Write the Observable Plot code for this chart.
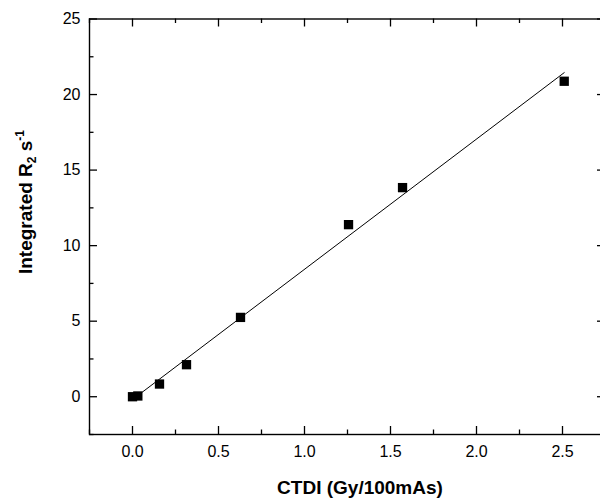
<!DOCTYPE html>
<html><head><meta charset="utf-8">
<script src="https://cdn.jsdelivr.net/npm/d3@7"></script>
<script src="https://cdn.jsdelivr.net/npm/@observablehq/plot@0.6"></script>
<style>html,body{margin:0;padding:0;background:#fff;overflow:hidden} svg{display:block}</style>
</head><body><div id="chart"></div>
<script>
// Data
const ctdi = [0, 0.031, 0.157, 0.314, 0.628, 1.256, 1.57, 2.51];
const r2   = [0, 0.05, 0.84, 2.12, 5.25, 11.39, 13.84, 20.88];
const fitX = [0.031, 2.51];
const fitY = [0.08, 21.45];
const xTicks = [0, 0.5, 1, 1.5, 2, 2.5];
const xMinor = [-0.25, 0.25, 0.75, 1.25, 1.75, 2.25, 2.75];
const yTicks = [0, 5, 10, 15, 20, 25];
const yMinor = [-2.5, 2.5, 7.5, 12.5, 17.5, 22.5];
const xTitle = "CTDI (Gy/100mAs)";
const yTitleParts = ["Integrated R", "2", " s", "-1"];

const W = 600, H = 499, mL = 89, mT = 18.5, mB = 65, mR = -5;
const innerH = H - mT - mB;
const innerW = W - mL - mR;
const points = ctdi.map((x, i) => ({x, y: r2[i]}));
const fit = fitX.map((x, i) => ({x, y: fitY[i]}));
const tk = 1.3;

const plot = Plot.plot({
  width: W, height: H,
  marginLeft: mL, marginRight: mR, marginTop: mT, marginBottom: mB,
  style: {fontFamily: "'Liberation Sans', Arial, sans-serif", fontSize: "16px", background: "white", color: "black", overflow: "hidden"},
  x: {domain: [-0.25, 2.75]},
  y: {domain: [-2.5, 25]},
  marks: [
    Plot.axisX({ticks: xTicks, anchor: "bottom", tickSize: 0, tickPadding: 11, tickFormat: d3.format(".1f"), label: null, fontSize: 16}),
    Plot.axisY({ticks: yTicks, anchor: "left", tickSize: 0, tickPadding: 9, label: null, fontSize: 16}),
    // inward ticks: bottom/top
    Plot.tickX(xTicks, {x: d => d, insetTop: innerH - 8, strokeWidth: tk}),
    Plot.tickX(xMinor, {x: d => d, insetTop: innerH - 4.5, strokeWidth: tk}),
    Plot.tickX(xTicks, {x: d => d, insetBottom: innerH - 8, strokeWidth: tk}),
    Plot.tickX(xMinor, {x: d => d, insetBottom: innerH - 4.5, strokeWidth: tk}),
    // inward ticks: left/right
    Plot.tickY(yTicks, {y: d => d, insetRight: innerW - 8, strokeWidth: tk}),
    Plot.tickY(yMinor, {y: d => d, insetRight: innerW - 4.5, strokeWidth: tk}),
    Plot.tickY(yTicks, {y: d => d, insetLeft: innerW - 8, strokeWidth: tk}),
    Plot.tickY(yMinor, {y: d => d, insetLeft: innerW - 4.5, strokeWidth: tk}),
    Plot.frame({strokeWidth: 1.4}),
    Plot.line(fit, {x: "x", y: "y", stroke: "black", strokeWidth: 1}),
    Plot.dot(points, {x: "x", y: "y", symbol: "square", r: 5.25, fill: "black", stroke: "none"})
  ]
});
document.getElementById("chart").appendChild(plot);

const svg = d3.select(plot);
svg.selectAll('g[aria-label$="tick label"]').attr("font-size", 16).selectAll("text").attr("font-size", 16);
const font = "'Liberation Sans', Arial, sans-serif";
svg.append("text")
  .attr("x", 360).attr("y", 494)
  .attr("text-anchor", "middle")
  .attr("font-family", font).attr("font-weight", "bold").attr("font-size", 19)
  .attr("fill", "black")
  .text(xTitle);

const yt = svg.append("text")
  .attr("transform", "translate(32,202) rotate(-90)")
  .attr("text-anchor", "middle")
  .attr("font-family", font).attr("font-weight", "bold").attr("font-size", 19)
  .attr("fill", "black");
yt.append("tspan").text(yTitleParts[0]);
yt.append("tspan").attr("font-size", 12).attr("dy", 4).text(yTitleParts[1]);
yt.append("tspan").attr("dy", -4).text(yTitleParts[2]);
yt.append("tspan").attr("font-size", 12).attr("dy", -8).text(yTitleParts[3]);
</script>
</body></html>
